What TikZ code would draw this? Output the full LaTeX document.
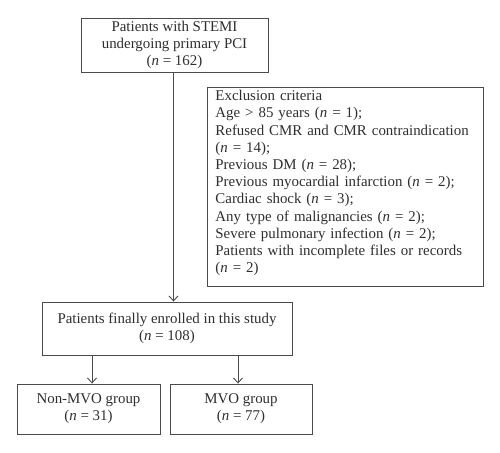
\documentclass[tikz,border=0pt]{standalone}
\usepackage{fontspec}
\setmainfont{Liberation Serif}
\usetikzlibrary{arrows.meta}
\definecolor{linec}{HTML}{4A4A4A}
\definecolor{textc}{HTML}{2E2E2E}
\begin{document}
\begin{tikzpicture}[x=1pt,y=-1pt,
  box/.style={draw=linec,line width=0.9pt,rectangle,inner sep=0pt,text=textc,
     font=\fontsize{14.9}{17.2}\selectfont,align=center},
  arr/.style={draw=linec,line width=0.9pt,-{Straight Barb[length=5pt,width=9pt,line width=0.9pt]}}]
\useasboundingbox (0,0) rectangle (500,452);
\node[box,minimum width=187pt,minimum height=54pt] (top) at (174.5,45)
  {Patients with STEMI\\undergoing primary PCI\\(\textit{n} = 162)};
\node[box,anchor=north west,align=left,text width=260pt,inner xsep=8pt,inner ysep=3.0pt] (excl) at (207,87)
  {Exclusion criteria\\
   Age > 85 years (\textit{n} = 1);\\
   Refused CMR and CMR contraindication\\
   (\textit{n} = 14);\\
   Previous DM (\textit{n} = 28);\\
   Previous myocardial infarction (\textit{n} = 2);\\
   Cardiac shock (\textit{n} = 3);\\
   Any type of malignancies (\textit{n} = 2);\\
   Severe pulmonary infection (\textit{n} = 2);\\
   Patients with incomplete files or records\\
   (\textit{n} = 2)\rule[-11pt]{0pt}{11pt}};
\node[box,minimum width=250pt,minimum height=53pt] (enr) at (167,328.5)
  {Patients finally enrolled in this study\\(\textit{n} = 108)};
\node[box,minimum width=143pt,minimum height=50pt] (non) at (88.5,409)
  {Non-MVO group\\(\textit{n} = 31)};
\node[box,minimum width=142pt,minimum height=50pt] (mvo) at (241,409)
  {MVO group\\(\textit{n} = 77)};
\coordinate (c0) at (173.5,0);
\coordinate (c1) at (92,0);
\coordinate (c2) at (238,0);
\draw[arr] (top.south -| c0) -- (enr.north -| c0);
\draw[arr] (enr.south -| c1) -- (non.north -| c1);
\draw[arr] (enr.south -| c2) -- (mvo.north -| c2);
\end{tikzpicture}
\end{document}
